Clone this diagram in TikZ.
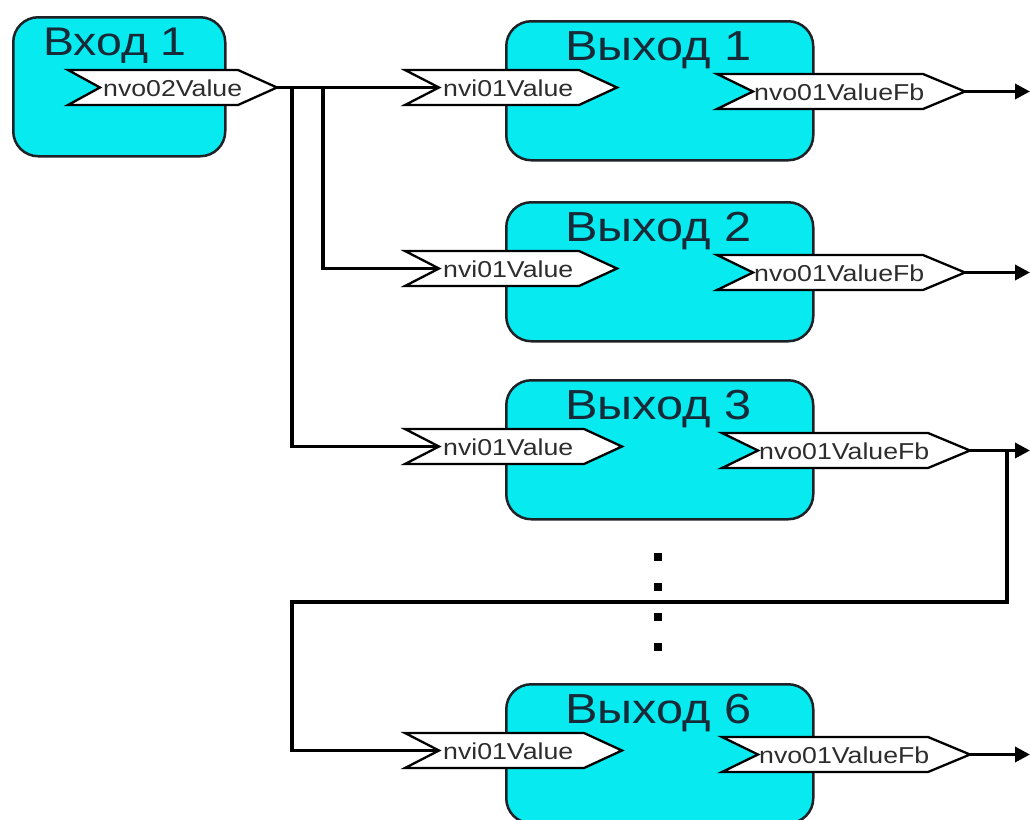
\documentclass[tikz,border=0pt]{standalone}
\usepackage{fontspec}
\newfontfamily\diagfont[FakeStretch=1.16]{Liberation Sans}
\usetikzlibrary{arrows.meta}

\definecolor{blockfill}{RGB}{6,234,240}
\definecolor{blockedge}{RGB}{30,34,38}
\definecolor{titleink}{RGB}{22,42,56}
\definecolor{pinink}{RGB}{45,45,45}

\tikzset{
  block/.style={draw=blockedge, line width=2.5pt, fill=blockfill, rounded corners=25pt,
    minimum width=307pt, minimum height=139pt, inner sep=0pt, anchor=north west},
  title/.style={font=\diagfont\fontsize{42}{42}\selectfont, text=titleink, anchor=base, inner sep=0pt},
  pinline/.style={draw=black, line width=2.3pt, fill=white, line join=miter},
  pintext/.style={font=\diagfont\fontsize{23}{23}\selectfont, text=pinink, anchor=base west, inner sep=0pt},
  wire/.style={line width=3.5pt, draw=black},
  outwire/.style={wire, -{Triangle[length=15pt,width=15pt]}},
  dotmark/.style={fill=black, minimum size=8pt, inner sep=0pt}
}

% network variable port: name, left x, centre y, tip x, notch depth, point depth, label, label offset
\newcommand\pinport[8]{%
  \draw[pinline] (#2,#3-17.5) -- (#4-#6,#3-17.5) -- (#4,#3) -- (#4-#6,#3+17.5)
    -- (#2,#3+17.5) -- (#2+#5,#3) -- cycle;
  \coordinate (#1-in) at (#2+#5,#3);
  \coordinate (#1-out) at (#4,#3);
  \node[pintext] (#1) at (#2+#5+#8,#3+8.5) {#7};
}

\begin{document}
\begin{tikzpicture}[x=1pt,y=-1pt]
\useasboundingbox (0,0) rectangle (1030,819);
\clip (0,0) rectangle (1030,819);

% input block
\node[block, minimum width=212pt] (src-block) at (12,16) {};
\node[title, font=\diagfont\fontsize{40}{40}\selectfont] (src-title) at (115,55) {Вход 1};
\pinport{src}{68}{87.5}{277}{32}{39}{nvo02Value}{3}

% output blocks
\foreach \T/\n/\d in {20/1/0,201/2/0,379/3/5,683/6/5}{
  \node[block] (out\n) at (505,\T) {};
  \node[title] (out\n-title) at (658.5,\T+40) {Выход \n};
  \pinport{in\n}{405}{\T+67.5}{617+\d}{34}{38}{nvi01Value}{4}
  \pinport{fb\n}{717+\d}{\T+71.5}{965+\d}{36}{42}{nvo01ValueFb}{1}
}

% ellipsis between block 3 and block 6
\foreach \y [count=\i] in {557,587,617,647}
  \node[dotmark] (dot\i) at (658,\y) {};

% bindings
\coordinate (split2) at (323,87.5);
\coordinate (split3) at (292,87.5);
\coordinate (rightedge) at (1030,0);
\coordinate (loopR) at (1007,0);
\coordinate (loopL) at (292,602);

\draw[wire] (src-out) -- (in1-in);
\draw[wire] (split2) |- (in2-in);
\draw[wire] (split3) |- (in3-in);
\draw[wire] (fb3-out -| loopR) |- (loopL) |- (in6-in);
\foreach \n in {1,2,3,6}
  \draw[outwire] (fb\n-out) -- (fb\n-out -| rightedge);
\end{tikzpicture}
\end{document}
